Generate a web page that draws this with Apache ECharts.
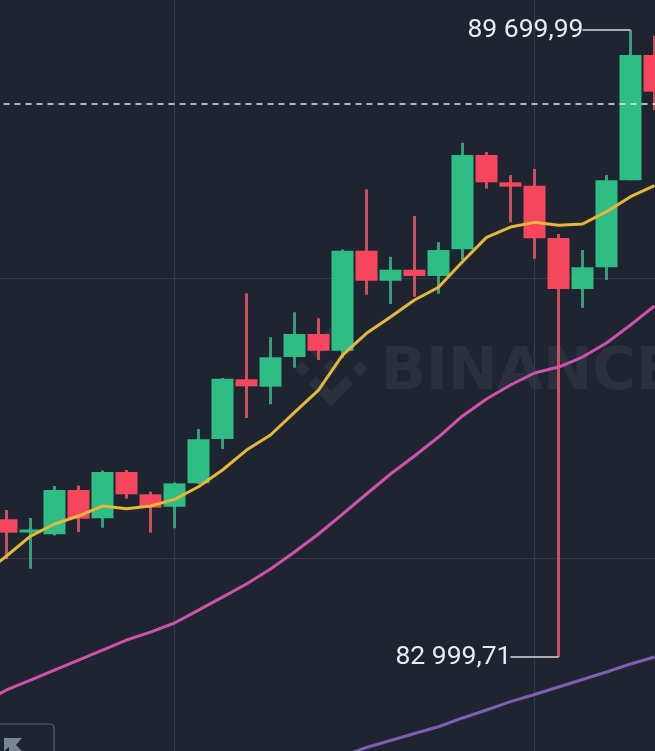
<!DOCTYPE html>
<html>

<head>
    <meta charset="utf-8">
    <title>BTC</title>
    <style>
        html,
        body {
            margin: 0;
            padding: 0;
            background: #1f2530;
        }

        #chart {
            width: 655px;
            height: 751px;
        }
    </style>
</head>

<body>
    <div id="chart"></div>
</body>
<script src="https://cdn.jsdelivr.net/npm/echarts@6/dist/echarts.min.js"></script>
<script type="text/javascript">
    // first category sits off screen so the average lines reach the left edge
    var categories = ['c00', 'c01', 'c02', 'c03', 'c04', 'c05', 'c06', 'c07', 'c08', 'c09', 'c10', 'c11', 'c12', 'c13', 'c14', 'c15', 'c16', 'c17', 'c18', 'c19', 'c20', 'c21', 'c22', 'c23', 'c24', 'c25', 'c26', 'c27', 'c28'];

    var opens = [null, 84471, 84330, 84310, 84784, 84481, 84976, 84738, 84605, 84855, 85329, 85967, 85888, 86205, 86451, 86272, 87341, 87020, 87138, 87071, 87356, 88364, 88072, 88036, 87477, 86932, 87164, 88093, 89432];
    var closes = [null, 84328, 84362, 84784, 84477, 84976, 84738, 84595, 84855, 85326, 85973, 85892, 86202, 86451, 86272, 87341, 87020, 87138, 87071, 87348, 88364, 88072, 88025, 87473, 86932, 87164, 88093, 89432, 89040];
    var lows = [null, 84047, 83943, 84298, 84335, 84381, 84691, 84328, 84375, 84848, 85222, 85553, 85700, 86091, 86173, 86194, 86871, 86771, 86849, 86881, 87242, 88004, 87644, 87255, 82999.71, 86732, 87028, 88093, 88841];
    var highs = [null, 84570, 84485, 84827, 84832, 84992, 84998, 84766, 84864, 85436, 85981, 86886, 86416, 86683, 86619, 87354, 87997, 87277, 87712, 87431, 88495, 88396, 88150, 88214, 87520, 87348, 88150, 89699.99, 89638];

    var maFast = [83876, 84079, 84292, 84421, 84506, 84613, 84584, 84613, 84684, 84819, 84998, 85211, 85372, 85614, 85852, 86226, 86458, 86632, 86814, 86950, 87223, 87484, 87594, 87644, 87612, 87626, 87758, 87918, 88036];
    var maMid = [82508, 82647, 82753, 82860, 82967, 83074, 83181, 83266, 83363, 83501, 83640, 83779, 83940, 84121, 84314, 84527, 84741, 84955, 85147, 85350, 85575, 85756, 85906, 86034, 86098, 86205, 86355, 86547, 86750];
    var maSlow = [null, null, null, null, null, null, null, null, null, null, null, null, null, null, 81856, 81941, 82032, 82107, 82182, 82254, 82348, 82433, 82522, 82599, 82679, 82759, 82839, 82925, 82999];

    var gridPrices = [87049, 84057];
    var gridCategories = ['c08', 'c23'];
    var lastPrice = 88912;
    var highLabel = '89 699,99';
    var lowLabel = '82 999,71';

    var chart = echarts.init(document.getElementById('chart'));

    // 实体和影线颜色不同，所以画两层
    var wickData = [];
    var bodyData = [];
    for (var i = 0; i < categories.length; i++) {
        if (opens[i] === null) {
            wickData.push('-');
            bodyData.push('-');
            continue;
        }
        // wick layer only needs a sliver at the middle of the body, keeps up/down colour
        var mid = (opens[i] + closes[i]) / 2;
        var dir = closes[i] > opens[i] ? 1 : -1;
        wickData.push([mid - dir, mid + dir, lows[i], highs[i]]);
        bodyData.push([opens[i], closes[i], Math.min(opens[i], closes[i]), Math.max(opens[i], closes[i])]);
    }

    var gridLines = [];
    gridPrices.forEach(function(p) {
        gridLines.push({ yAxis: p });
    });
    gridCategories.forEach(function(c) {
        gridLines.push({ xAxis: c });
    });

    function maSeries(name, data, color) {
        return {
            name: name,
            type: 'line',
            data: data,
            z: 6,
            smooth: false,
            showSymbol: false,
            silent: true,
            lineStyle: { color: color, width: 3, join: 'round' }
        };
    }

    function extremeLine(fromCat, toCat, price, text) {
        return [{
            coord: [fromCat, price],
            label: {
                show: true,
                position: 'start',
                formatter: text,
                distance: -1,
                padding: [2, 0, 0, 0],
                color: '#e9ecf1',
                fontSize: 26.5,
                fontFamily: 'Roboto'
            }
        }, {
            coord: [toCat, price]
        }];
    }

    var logoColor = '#2b313c';
    var option = {
        animation: false,
        backgroundColor: '#1f2530',
        grid: { left: -29.5, width: 696, top: 0, height: 751, outerBoundsMode: 'none' },
        xAxis: {
            type: 'category',
            data: categories,
            axisLine: { show: false },
            axisTick: { show: false },
            axisLabel: { show: false },
            splitLine: { show: false }
        },
        yAxis: {
            type: 'value',
            min: 81995,
            max: 90020,
            axisLine: { show: false },
            axisTick: { show: false },
            axisLabel: { show: false },
            splitLine: { show: false }
        },
        graphic: {
            elements: [{
                type: 'text',
                left: 381,
                top: 344,
                silent: true,
                style: { text: 'BINANCE', fill: logoColor, font: 'bold 59px "DejaVu Sans"' }
            }, {
                type: 'group',
                silent: true,
                children: [
                    { type: 'polygon', shape: { points: [[331, 406], [353.5, 384.5], [346, 376], [331, 391.5], [316, 376], [308.5, 384.5]] }, style: { fill: logoColor } },
                    { type: 'polygon', shape: { points: [[331, 328], [353.5, 349.5], [346, 358], [331, 342.5], [316, 358], [308.5, 349.5]] }, style: { fill: logoColor } },
                    { type: 'polygon', shape: { points: [[331, 359.5], [338.5, 367], [331, 374.5], [323.5, 367]] }, style: { fill: logoColor } },
                    { type: 'polygon', shape: { points: [[302, 361.5], [309.5, 369], [302, 376.5], [294.5, 369]] }, style: { fill: logoColor } },
                    { type: 'polygon', shape: { points: [[360, 361.5], [367.5, 369], [360, 376.5], [352.5, 369]] }, style: { fill: logoColor } }
                ]
            }, {
                // button in the lower left corner, cut off by the photo
                type: 'rect',
                silent: true,
                z: 20,
                shape: { x: -10, y: 724, width: 64, height: 40, r: 4 },
                style: { fill: 'transparent', stroke: '#5c6370', lineWidth: 1.2 }
            }, {
                type: 'polygon',
                silent: true,
                z: 20,
                shape: { points: [[4, 738], [22, 738], [16, 745], [22, 751], [9, 751], [9, 747], [4, 751]] },
                style: { fill: '#7b8494' }
            }]
        },
        series: [{
            name: 'wick',
            type: 'candlestick',
            data: wickData,
            barWidth: 3,
            z: 3,
            silent: true,
            itemStyle: {
                color: '#3a9c7b',
                color0: '#c9525f',
                borderColor: '#3a9c7b',
                borderColor0: '#c9525f',
                borderWidth: 3
            },
            markLine: {
                silent: true,
                z: 1,
                symbol: 'none',
                label: { show: false },
                lineStyle: { color: '#333a46', width: 1.2, type: 'solid' },
                data: gridLines
            }
        }, {
            name: 'body',
            type: 'candlestick',
            data: bodyData,
            barWidth: 22,
            z: 4,
            silent: true,
            itemStyle: {
                color: '#2ebd85',
                color0: '#f6465d',
                borderColor: '#2ebd85',
                borderColor0: '#f6465d',
                borderWidth: 0
            },
            markLine: {
                silent: true,
                z: 10,
                symbol: 'none',
                label: { show: false },
                lineStyle: { color: '#e6e8ec', width: 1.5, type: [6, 5] },
                data: [{ yAxis: lastPrice }]
            }
        },
        maSeries('MA7', maFast, '#e5b73b'),
        maSeries('MA25', maMid, '#cf52ac'),
        maSeries('MA99', maSlow, '#7f5fb0'), {
            name: 'extremes',
            type: 'line',
            data: [],
            z: 8,
            markLine: {
                silent: true,
                z: 9,
                symbol: 'none',
                lineStyle: { color: '#d9dce1', width: 1.5, type: 'solid' },
                data: [
                    extremeLine('c25', 'c27', 89699.99, highLabel),
                    extremeLine('c22', 'c24', 82999.71, lowLabel)
                ]
            }
        }]
    };
    chart.setOption(option);
</script>

</html>
